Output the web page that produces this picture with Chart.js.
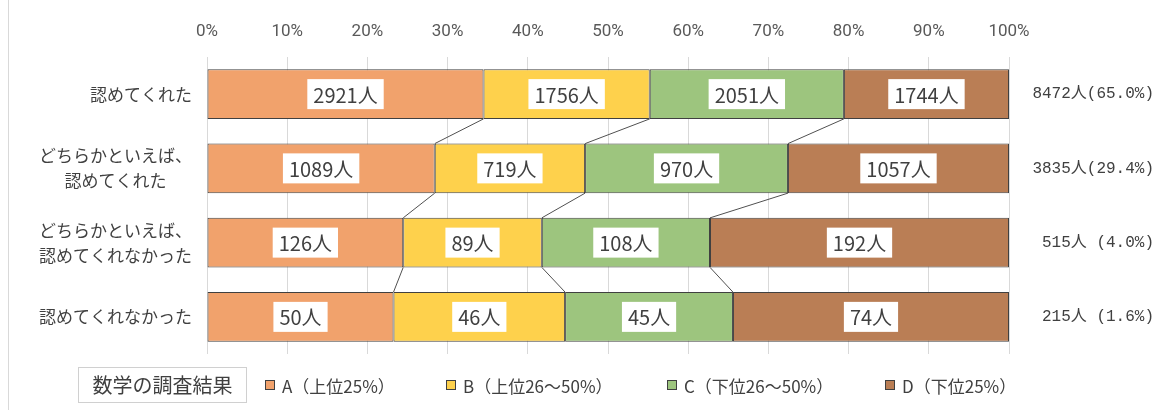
<!DOCTYPE html>
<html lang="ja">
<head>
<meta charset="utf-8">
<script src="https://cdn.jsdelivr.net/npm/chart.js@4/dist/chart.umd.min.js"></script>
<style>
  body { margin: 0; background: #fff; font-family: "Noto Sans CJK JP", "Noto Sans", sans-serif; }
  #wrap { position: relative; width: 1173px; height: 410px; }
  #frame { position: absolute; left: 8px; top: 0; width: 1px; height: 410px; background: #d9d9d9; }
  #legend { position: absolute; left: 0; top: 367px; width: 1173px; height: 36px; color: #404040; }
  #legend .title { position: absolute; left: 78px; top: 0; width: 169px; height: 36px; line-height: 34px;
    border: 1px solid #d0d0d0; box-sizing: border-box; text-align: center; font-size: 20px; }
  #legend .item { position: absolute; top: 0; height: 36px; display: flex; align-items: center; font-size: 17px; white-space: nowrap; }
  #legend .sw { width: 8px; height: 8px; border: 1px solid #404040; margin-right: 7px; }
</style>
</head>
<body>
<div id="wrap">
  <canvas id="chart"></canvas>
  <div id="frame"></div>
  <div id="legend"></div>
</div>
<script>
// 回答カテゴリ
var categories = [
  "認めてくれた",
  ["どちらかといえば、", "認めてくれた"],
  ["どちらかといえば、", "認めてくれなかった"],
  "認めてくれなかった"
];
// 数学の調査結果グループ
var legendTitle = "数学の調査結果";
var groupNames = ["A（上位25%）", "B（上位26～50%）", "C（下位26～50%）", "D（下位25%）"];
var groupColors = ["#F1A26C", "#FED14C", "#9DC57E", "#BA7E55"];
// 人数
var countA = [2921, 1089, 126, 50];
var countB = [1756, 719, 89, 46];
var countC = [2051, 970, 108, 45];
var countD = [1744, 1057, 192, 74];
var totals = [8472, 3835, 515, 215];
var totalPct = [65.0, 29.4, 4.0, 1.6];
var xTicks = [0, 10, 20, 30, 40, 50, 60, 70, 80, 90, 100];

var counts = [countA, countB, countC, countD];
var JP = "'Noto Sans CJK JP'";

function toPct(arr) {
  return arr.map(function (v, i) { return v / totals[i] * 100; });
}

var datasets = counts.map(function (arr, d) {
  return {
    label: groupNames[d],
    data: toPct(arr),
    counts: arr,
    backgroundColor: groupColors[d],
    borderColor: "#404040",
    borderWidth: 1,
    borderSkipped: false,
    barPercentage: 1,
    categoryPercentage: 0.667
  };
});

// 系列線（区切りを結ぶ線）
var seriesLines = {
  id: "seriesLines",
  afterDatasetsDraw: function (chart) {
    var ctx = chart.ctx;
    ctx.save();
    ctx.strokeStyle = "#505050";
    ctx.lineWidth = 1;
    for (var d = 0; d < chart.data.datasets.length - 1; d++) {
      var bars = chart.getDatasetMeta(d).data;
      for (var i = 0; i < bars.length - 1; i++) {
        var a = bars[i], b = bars[i + 1];
        ctx.beginPath();
        ctx.moveTo(a.x, a.y + a.height / 2);
        ctx.lineTo(b.x, b.y - b.height / 2);
        ctx.stroke();
      }
    }
    ctx.restore();
  }
};

// 人数ラベル・合計・カテゴリ名
var textLayer = {
  id: "textLayer",
  afterDatasetsDraw: function (chart) {
    var ctx = chart.ctx;
    var yScale = chart.scales.y;
    ctx.save();
    ctx.textBaseline = "middle";

    ctx.font = "20px " + JP;
    ctx.textAlign = "center";
    chart.data.datasets.forEach(function (ds, d) {
      chart.getDatasetMeta(d).data.forEach(function (bar, i) {
        var text = ds.counts[i] + "人";
        var cx = (bar.x + bar.base) / 2;
        var w = ctx.measureText(text).width + 12;
        ctx.fillStyle = "#ffffff";
        ctx.fillRect(cx - w / 2, bar.y - 15, w, 30);
        ctx.fillStyle = "#404040";
        ctx.fillText(text, cx, bar.y + 1);
      });
    });

    ctx.font = "16px 'Liberation Mono', " + JP;
    ctx.textAlign = "right";
    totals.forEach(function (t, i) {
      var p = totalPct[i].toFixed(1);
      var text = t + "人" + (p.length < 4 ? " " : "") + "(" + p + "%)";
      ctx.fillText(text, chart.chartArea.right + 145, yScale.getPixelForValue(i));
    });

    // カテゴリ名（複数行は中央揃え、ブロックは右揃え）
    ctx.font = "17px " + JP;
    ctx.textAlign = "center";
    var right = chart.chartArea.left - 15;
    categories.forEach(function (lab, i) {
      var lines = Array.isArray(lab) ? lab : [lab];
      var maxW = Math.max.apply(null, lines.map(function (l) { return ctx.measureText(l).width; }));
      var cx = right - maxW / 2;
      var cy = yScale.getPixelForValue(i);
      var lh = 25;
      lines.forEach(function (l, k) {
        ctx.fillText(l, cx, cy + (k - (lines.length - 1) / 2) * lh);
      });
    });
    ctx.restore();
  }
};

new Chart(document.getElementById("chart"), {
  type: "bar",
  data: { labels: categories, datasets: datasets },
  plugins: [seriesLines, textLayer],
  options: {
    indexAxis: "y",
    responsive: true,
    maintainAspectRatio: false,
    animation: false,
    layout: { padding: { left: 0, right: 164, top: 0, bottom: 56 } },
    plugins: { legend: { display: false }, tooltip: { enabled: false } },
    scales: {
      x: {
        stacked: true,
        position: "top",
        min: 0,
        max: 100,
        afterBuildTicks: function (scale) {
          scale.ticks = xTicks.map(function (v) { return { value: v }; });
        },
        afterFit: function (scale) { scale.height = 57; },
        ticks: {
          padding: 15,
          color: "#595959",
          font: { size: 17, family: "Roboto, 'Noto Sans'" },
          callback: function (v) { return v + "%"; }
        },
        grid: { color: "#d9d9d9", drawTicks: false },
        border: { display: false }
      },
      y: {
        stacked: true,
        afterFit: function (scale) { scale.width = 207; },
        ticks: { display: false },
        grid: { display: false },
        border: { display: false }
      }
    }
  }
});

// 凡例
var legendX = [265, 446, 667, 885];
var legend = document.getElementById("legend");
var html = '<div class="title">' + legendTitle + '</div>';
groupNames.forEach(function (name, d) {
  html += '<div class="item" style="left:' + legendX[d] + 'px"><span class="sw" style="background:' +
    groupColors[d] + '"></span>' + name + "</div>";
});
legend.innerHTML = html;
</script>
</body>
</html>
